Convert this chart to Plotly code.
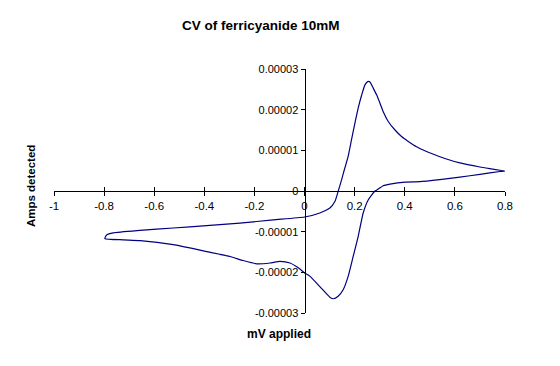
import plotly.graph_objects as go

# Cyclic voltammogram (forward sweep then return sweep)
potential_v = [
    -0.797, -0.790, -0.763, -0.657, -0.524, -0.391, -0.258, -0.125, 0.0, 0.061, 0.101,
    0.121, 0.134, 0.148, 0.155, 0.174, 0.187, 0.201, 0.214, 0.228, 0.241, 0.252, 0.261,
    0.274, 0.288, 0.301, 0.314, 0.334, 0.361, 0.387, 0.414, 0.447, 0.480, 0.520, 0.560,
    0.620, 0.700, 0.799,
    0.780, 0.700, 0.620, 0.540, 0.460, 0.402, 0.341, 0.314, 0.290, 0.281, 0.254, 0.234,
    0.214, 0.194, 0.174, 0.154, 0.134, 0.115, 0.101, 0.061, 0.022, 0.002, -0.025, -0.058,
    -0.098, -0.138, -0.191, -0.245, -0.298, -0.391, -0.524, -0.656, -0.723, -0.797,
]
current_ua10 = [  # in units of 1e-5 A
    -1.17, -1.08, -1.03, -0.97, -0.91, -0.85, -0.79, -0.71, -0.64, -0.54, -0.42,
    -0.26, -0.01, 0.28, 0.44, 0.85, 1.25, 1.67, 2.04, 2.36, 2.61, 2.69, 2.68,
    2.53, 2.36, 2.16, 1.95, 1.71, 1.50, 1.34, 1.22, 1.09, 0.99, 0.89, 0.80,
    0.69, 0.59, 0.49,
    0.48, 0.41, 0.34, 0.28, 0.23, 0.22, 0.17, 0.13, 0.03, 0.0, -0.22, -0.54,
    -1.12, -1.61, -2.10, -2.43, -2.59, -2.65, -2.61, -2.35, -2.10, -2.02, -1.89, -1.77,
    -1.73, -1.77, -1.79, -1.71, -1.61, -1.49, -1.32, -1.22, -1.20, -1.17,
]
current_a = [v * 1e-5 for v in current_ua10]

x_ticks = [-1, -0.8, -0.6, -0.4, -0.2, 0, 0.2, 0.4, 0.6, 0.8]
x_tick_labels = ["-1", "-0.8", "-0.6", "-0.4", "-0.2", "0", "0.2", "0.4", "0.6", "0.8"]
y_ticks = [-3e-5, -2e-5, -1e-5, 0, 1e-5, 2e-5, 3e-5]
y_tick_labels = ["-0.00003", "-0.00002", "-0.00001", "0", "0.00001", "0.00002", "0.00003"]

title_text = "CV of ferricyanide 10mM"
x_title = "mV applied"
y_title = "Amps detected"

OFF = 8  # page body margin
W, H = 560 - OFF, 366 - OFF
L, R, T, B = 54.3 - OFF, 505.3 - OFF, 69 - OFF, 313 - OFF
FONT = "Liberation Sans, Arial, sans-serif"

fig = go.Figure()
fig.add_trace(go.Scatter(
    x=potential_v, y=current_a, mode="lines",
    line=dict(color="#000080", width=1.2, shape="spline", smoothing=0.5),
    showlegend=False, hoverinfo="skip",
))
# dummy trace on overlay axis so tick marks cross the x axis
fig.add_trace(go.Scatter(x=[None], y=[None], xaxis="x2", yaxis="y", showlegend=False))

xrange = [-1, 0.8]
yrange = [-3e-5, 3e-5]
x0_frac = (0 - xrange[0]) / (xrange[1] - xrange[0])


def px_x(p):
    return (p - OFF - L) / (R - L)


def px_y(p):
    return (B - (p - OFF)) / (B - T)


common_x = dict(range=xrange, showgrid=False, zeroline=False, showline=True,
                linecolor="black", linewidth=1, anchor="free", position=0.5)
fig.update_layout(
    width=W, height=H,
    margin=dict(l=L, r=W - R, t=T, b=H - B, pad=0),
    paper_bgcolor="white", plot_bgcolor="white",
    font=dict(family=FONT, size=11, color="black"),
    xaxis=dict(**common_x, tickmode="array", tickvals=x_ticks, ticktext=x_tick_labels,
               ticks="outside", ticklen=4, tickcolor="black", tickfont=dict(size=11.5)),
    xaxis2=dict(**common_x, overlaying="x", tickmode="array", tickvals=x_ticks,
                ticks="inside", ticklen=4, tickcolor="black", showticklabels=False),
    yaxis=dict(range=yrange, showgrid=False, zeroline=False, showline=True,
               linecolor="black", linewidth=1, anchor="free", position=x0_frac,
               tickmode="array", tickvals=y_ticks, ticktext=y_tick_labels,
               ticks="outside", ticklen=4, tickcolor="black", tickfont=dict(size=11)),
    annotations=[
        dict(text="<b>" + title_text + "</b>", xref="paper", yref="paper",
             x=px_x(261.7), y=px_y(26), xanchor="center", yanchor="middle",
             showarrow=False, font=dict(size=13.5, family=FONT)),
        dict(text="<b>" + x_title + "</b>", xref="paper", yref="paper",
             x=px_x(279), y=px_y(333.7), xanchor="center", yanchor="middle",
             showarrow=False, font=dict(size=12, family=FONT)),
        dict(text="<b>" + y_title + "</b>", xref="paper", yref="paper",
             x=px_x(30.7), y=px_y(185.7), xanchor="center", yanchor="middle",
             textangle=-90, showarrow=False, font=dict(size=11.5, family=FONT)),
    ],
)

fig.write_html("out.html")
